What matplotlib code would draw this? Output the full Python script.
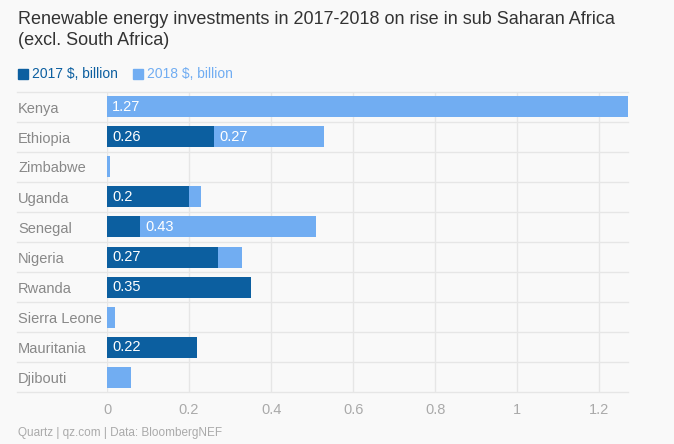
import matplotlib
matplotlib.use("Agg")
import matplotlib.pyplot as plt

countries = ["Kenya", "Ethiopia", "Zimbabwe", "Uganda", "Senegal", "Nigeria",
             "Rwanda", "Sierra Leone", "Mauritania", "Djibouti"]
v2017 = [0, 0.26, 0, 0.2, 0.08, 0.27, 0.35, 0, 0.22, 0]
v2018 = [1.27, 0.27, 0.007, 0.03, 0.43, 0.06, 0, 0.02, 0, 0.058]
xticks = [0, 0.2, 0.4, 0.6, 0.8, 1, 1.2]
xticklabels = ["0", "0.2", "0.4", "0.6", "0.8", "1", "1.2"]

dark = "#0c5fa0"
light = "#71adf2"
bg = "#f9f9f9"
plt.rcParams["font.family"] = "Liberation Sans"

fig = plt.figure(figsize=(6.74, 4.44), dpi=100, facecolor=bg)
ax = fig.add_axes([107/674, 1-392/444, (628-107)/674, (392-92)/444], facecolor=bg)
y = list(range(len(countries)))
h = 0.7
ax.barh(y, v2017, height=h, color=dark, zorder=3)
ax.barh(y, v2018, left=v2017, height=h, color=light, zorder=3)
for i in y:
    if v2017[i] >= 0.1:
        ax.text(0.013, i, f"{v2017[i]:g}", color="white", va="center", ha="left", fontsize=10.5, zorder=4)
    if v2018[i] >= 0.1:
        ax.text(v2017[i] + 0.013, i, f"{v2018[i]:g}", color="white", va="center", ha="left", fontsize=10.5, zorder=4)
ax.set_ylim(len(countries) - 0.5, -0.5)
ax.set_xlim(0, 1.27)
ax.set_xticks(xticks)
ax.set_xticklabels(xticklabels, color="#aaaaaa", fontsize=10.5)
ax.set_yticks(y)
ax.set_yticklabels(countries, color="#888888", fontsize=10.5)
for lab in ax.get_yticklabels():
    lab.set_horizontalalignment("left")
ax.tick_params(axis="y", length=0, pad=64)
ax.tick_params(axis="x", length=0, pad=8)
for sp in ax.spines.values():
    sp.set_visible(False)
ax.grid(axis="x", color="#e6e6e6", lw=1, zorder=0)
for k in range(len(countries) + 1):
    ax.axhline(k - 0.5, xmin=-90/521, xmax=1, color="#e6e6e6", lw=1, clip_on=False, zorder=0)

fig.text(18/674, 1-30/444, "Renewable energy investments in 2017-2018 on rise in sub Saharan Africa\n(excl. South Africa)",
         fontsize=13, color="#333333", va="center", linespacing=1.25)
fig.patches.append(plt.Rectangle((18/674, 1-79/444), 10/674, 10/444, color=dark, transform=fig.transFigure))
fig.text(32/674, 1-74/444, "2017 $, billion", fontsize=10, color=dark, va="center")
fig.patches.append(plt.Rectangle((133/674, 1-79/444), 10/674, 10/444, color=light, transform=fig.transFigure))
fig.text(147/674, 1-74/444, "2018 $, billion", fontsize=10, color=light, va="center")
fig.text(18/674, 1-433/444, "Quartz | qz.com | Data: BloombergNEF", fontsize=8.5, color="#aaaaaa", va="center")
fig.savefig("out.png", dpi=100, facecolor=bg)
